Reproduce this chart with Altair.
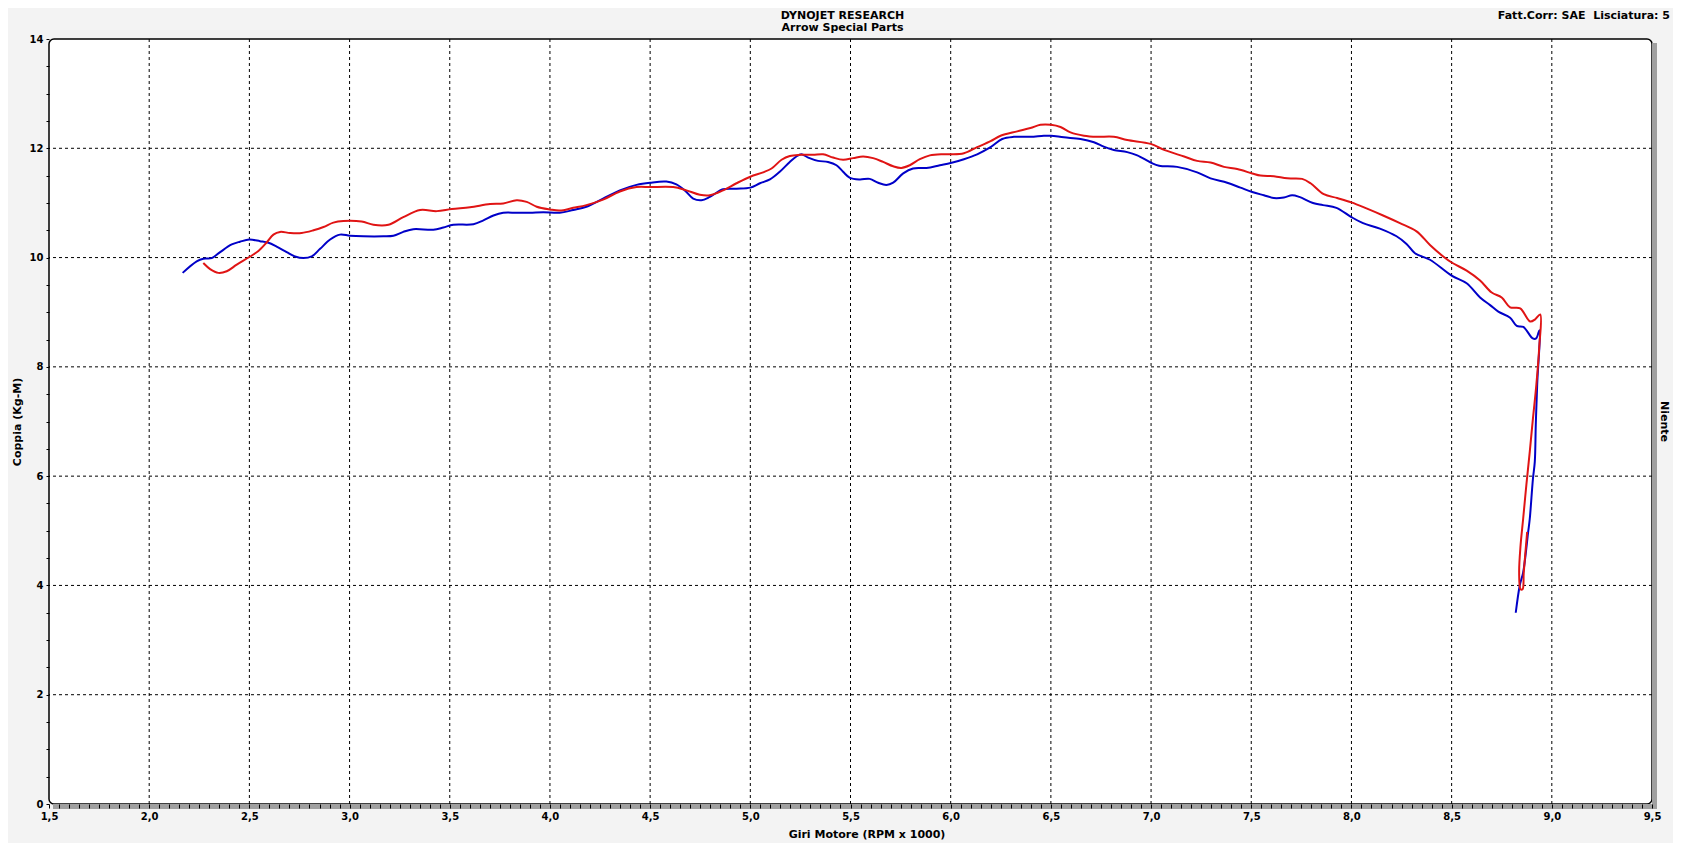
import altair as alt
import pandas as pd

# ---- data ----
blue_rpm = [2.167, 2.237, 2.27, 2.312, 2.354, 2.412, 2.453, 2.5, 2.553, 2.595, 2.636, 2.686, 2.728, 2.77,
            2.811, 2.853, 2.903, 2.952, 3.002, 3.069, 3.169, 3.219, 3.268, 3.318, 3.418, 3.468, 3.518,
            3.618, 3.668, 3.718, 3.767, 3.834, 3.9, 3.967, 4.049, 4.116, 4.182, 4.265, 4.349, 4.432,
            4.5, 4.581, 4.631, 4.673, 4.715, 4.756, 4.798, 4.864, 4.931, 5.0, 5.048, 5.098, 5.147,
            5.197, 5.23, 5.255, 5.289, 5.338, 5.388, 5.43, 5.463, 5.497, 5.546, 5.596, 5.638, 5.679,
            5.713, 5.763, 5.812, 5.879, 5.946, 6.0, 6.066, 6.132, 6.199, 6.257, 6.315, 6.398, 6.465,
            6.5, 6.565, 6.648, 6.715, 6.764, 6.814, 6.881, 6.931, 6.998, 7.04, 7.13, 7.23, 7.297,
            7.38, 7.446, 7.505, 7.563, 7.613, 7.663, 7.704, 7.74, 7.808, 7.858, 7.925, 8.0, 8.058,
            8.142, 8.225, 8.275, 8.317, 8.392, 8.5, 8.575, 8.642, 8.692, 8.733, 8.792, 8.825, 8.858,
            8.905, 8.922, 8.938, 8.927, 8.92, 8.915, 8.906, 8.89, 8.882, 8.857, 8.84, 8.82]
blue_torque = [9.72, 9.93, 9.98, 9.99, 10.10, 10.24, 10.29, 10.33, 10.30, 10.27, 10.20, 10.10, 10.02, 9.99,
               10.02, 10.16, 10.33, 10.42, 10.40, 10.39, 10.39, 10.40, 10.47, 10.52, 10.51, 10.55, 10.60,
               10.61, 10.68, 10.77, 10.82, 10.82, 10.82, 10.83, 10.82, 10.87, 10.93, 11.08, 11.23, 11.33,
               11.37, 11.39, 11.34, 11.23, 11.08, 11.05, 11.11, 11.25, 11.26, 11.28, 11.36, 11.43, 11.57,
               11.75, 11.85, 11.89, 11.83, 11.77, 11.75, 11.69, 11.57, 11.46, 11.43, 11.44, 11.37, 11.33,
               11.37, 11.54, 11.63, 11.64, 11.69, 11.73, 11.80, 11.89, 12.02, 12.17, 12.21, 12.21, 12.23,
               12.23, 12.20, 12.17, 12.11, 12.03, 11.97, 11.93, 11.87, 11.74, 11.68, 11.66, 11.56, 11.45,
               11.37, 11.28, 11.20, 11.14, 11.09, 11.10, 11.14, 11.11, 11.00, 10.96, 10.91, 10.74, 10.63,
               10.53, 10.39, 10.25, 10.08, 9.96, 9.67, 9.53, 9.27, 9.13, 9.01, 8.90, 8.75, 8.73,
               8.52, 8.52, 8.67, 7.68, 6.94, 6.26, 5.96, 5.22, 4.98, 4.24, 4.00, 3.50]

red_rpm = [2.27, 2.304, 2.345, 2.387, 2.437, 2.5, 2.545, 2.587, 2.62, 2.653, 2.703, 2.761, 2.82, 2.87,
           2.919, 2.969, 3.06, 3.119, 3.194, 3.268, 3.352, 3.435, 3.51, 3.601, 3.701, 3.767, 3.834,
           3.884, 3.934, 4.0, 4.049, 4.116, 4.182, 4.265, 4.349, 4.432, 4.5, 4.615, 4.681, 4.748,
           4.798, 4.864, 4.931, 5.0, 5.064, 5.106, 5.156, 5.197, 5.247, 5.313, 5.363, 5.413, 5.463,
           5.513, 5.563, 5.613, 5.663, 5.713, 5.754, 5.796, 5.846, 5.896, 5.962, 6.0, 6.066, 6.132,
           6.199, 6.249, 6.332, 6.398, 6.448, 6.5, 6.548, 6.598, 6.665, 6.731, 6.814, 6.881, 6.998,
           7.065, 7.165, 7.23, 7.297, 7.364, 7.43, 7.505, 7.546, 7.613, 7.68, 7.754, 7.796, 7.862,
           7.929, 8.0, 8.075, 8.158, 8.242, 8.325, 8.392, 8.458, 8.5, 8.575, 8.642, 8.7, 8.75, 8.792,
           8.842, 8.892, 8.917, 8.942, 8.937, 8.923, 8.906, 8.89, 8.873, 8.857, 8.844, 8.837, 8.844,
           8.854, 8.86, 8.877]
red_torque = [9.90, 9.79, 9.72, 9.75, 9.87, 10.01, 10.12, 10.28, 10.42, 10.47, 10.45, 10.45, 10.50, 10.56,
              10.64, 10.67, 10.66, 10.60, 10.60, 10.74, 10.87, 10.85, 10.89, 10.92, 10.98, 10.99, 11.05,
              11.02, 10.93, 10.88, 10.86, 10.91, 10.96, 11.06, 11.21, 11.29, 11.29, 11.29, 11.23, 11.15,
              11.14, 11.23, 11.36, 11.48, 11.56, 11.63, 11.79, 11.86, 11.88, 11.88, 11.89, 11.83, 11.79,
              11.82, 11.85, 11.82, 11.75, 11.67, 11.64, 11.69, 11.80, 11.87, 11.89, 11.89, 11.91, 12.02,
              12.13, 12.23, 12.31, 12.37, 12.43, 12.43, 12.39, 12.29, 12.23, 12.21, 12.21, 12.15, 12.08,
              11.97, 11.85, 11.77, 11.74, 11.66, 11.62, 11.54, 11.50, 11.49, 11.45, 11.44, 11.36, 11.16,
              11.09, 11.01, 10.90, 10.77, 10.63, 10.48, 10.23, 10.02, 9.91, 9.76, 9.58, 9.36, 9.27, 9.09,
              9.07, 8.83, 8.87, 8.96, 8.35, 7.68, 7.06, 6.45, 5.84, 5.22, 4.73, 4.24, 3.93,
              3.93, 4.24, 4.98]

x_grid = [2.0, 2.5, 3.0, 3.5, 4.0, 4.5, 5.0, 5.5, 6.0, 6.5, 7.0, 7.5, 8.0, 8.5, 9.0]
y_grid = [2, 4, 6, 8, 10, 12]
x_ticks = [round(1.5 + 0.05 * i, 2) for i in range(161)]
y_ticks = [0.5 * i for i in range(29)]

W, H = 1603, 765
FONT = "DejaVu Sans"
BLUE = "#0000c8"
RED = "#e01414"

blue_df = pd.DataFrame({"rpm": blue_rpm, "torque": blue_torque, "i": range(len(blue_rpm))})
red_df = pd.DataFrame({"rpm": red_rpm, "torque": red_torque, "i": range(len(red_rpm))})

xs = alt.Scale(domain=[1.5, 9.5], nice=False, zero=False)
ys = alt.Scale(domain=[0, 14], nice=False, zero=False)

x_axis = alt.Axis(
    values=x_ticks,
    labelExpr="abs(datum.value*2 - round(datum.value*2)) < 0.01 ? replace(format(datum.value, '.1f'), '.', ',') : ''",
    grid=False, domain=False, ticks=True, tickSize=4, tickColor="black", tickWidth=1,
    labelFont=FONT, labelFontWeight="bold", labelFontSize=10, labelColor="black",
    labelPadding=3, labelOverlap=False, labelFlush=False,
    title="Giri Motore (RPM x 1000)", titleFont=FONT, titleFontSize=11, titleFontWeight="bold",
    titleColor="black", titleX=W / 2 + 16, titleY=30, titleAlign="center", titleBaseline="middle",
    zindex=1,
)
y_axis = alt.Axis(
    values=y_ticks,
    labelExpr="abs(datum.value/2 - round(datum.value/2)) < 0.01 ? format(datum.value, 'd') : ''",
    grid=False, domain=False, ticks=True, tickSize=3, tickColor="black", tickWidth=1,
    labelFont=FONT, labelFontWeight="bold", labelFontSize=10, labelColor="black",
    labelPadding=3, labelOverlap=False, labelFlush=False,
    title="Coppia (Kg-M)", titleFont=FONT, titleFontSize=11, titleFontWeight="bold",
    titleColor="black", titleX=-32, titleY=H / 2, titleAngle=270, titleAlign="center",
    titleBaseline="middle", zindex=1,
)

shadow_r = alt.Chart(pd.DataFrame({"a": [0]})).mark_rule(color="#a0a0a0", strokeWidth=5).encode(
    x=alt.value(W + 2.5), y=alt.value(4), y2=alt.value(H + 5))
shadow_b = alt.Chart(pd.DataFrame({"a": [0]})).mark_rule(color="#a0a0a0", strokeWidth=5).encode(
    x=alt.value(4), x2=alt.value(W + 5), y=alt.value(H + 2.5))

gx = alt.Chart(pd.DataFrame({"rpm": x_grid})).mark_rule(
    color="black", strokeWidth=1, strokeDash=[3, 3]).encode(
    x=alt.X("rpm:Q", scale=xs, axis=x_axis))
gy = alt.Chart(pd.DataFrame({"torque": y_grid})).mark_rule(
    color="black", strokeWidth=1, strokeDash=[3, 3]).encode(
    y=alt.Y("torque:Q", scale=ys, axis=y_axis))

blue_line = alt.Chart(blue_df).mark_line(color=BLUE, strokeWidth=2, interpolate="catmull-rom").encode(
    x=alt.X("rpm:Q", scale=xs, axis=x_axis),
    y=alt.Y("torque:Q", scale=ys, axis=y_axis),
    order="i:Q",
)
red_line = alt.Chart(red_df).mark_line(color=RED, strokeWidth=2, interpolate="catmull-rom").encode(
    x=alt.X("rpm:Q", scale=xs, axis=x_axis),
    y=alt.Y("torque:Q", scale=ys, axis=y_axis),
    order="i:Q",
)

def label(txt, x, y, align="center", angle=0, size=11):
    return alt.Chart(pd.DataFrame({"a": [0]})).mark_text(
        font=FONT, fontWeight="bold", fontSize=size, color="black", align=align,
        baseline="alphabetic" if angle == 0 else "middle", angle=angle).encode(
        x=alt.value(x), y=alt.value(y), text=alt.value(txt))

t1 = label("DYNOJET RESEARCH", W / 2 - 8, -20)
t2 = label("Arrow Special Parts", W / 2 - 8, -8)
t3 = label("Fatt.Corr: SAE\u00a0\u00a0Lisciatura: 5", W + 18, -20, align="right")
t4 = label("Niente", W + 12, H / 2, angle=90)

chart = alt.layer(shadow_r, shadow_b, gx, gy, blue_line, red_line, t1, t2, t3, t4).properties(
    width=W, height=H,
    padding={"left": 41, "top": 31, "right": 21, "bottom": 39},
    autosize=alt.AutoSizeParams(type="none"),
).configure(background="#f3f3f3").configure_view(
    stroke="black", strokeWidth=1.5, fill="white", cornerRadius=5
)

chart.save("out.html", embed_options={"renderer": "svg", "actions": False})
